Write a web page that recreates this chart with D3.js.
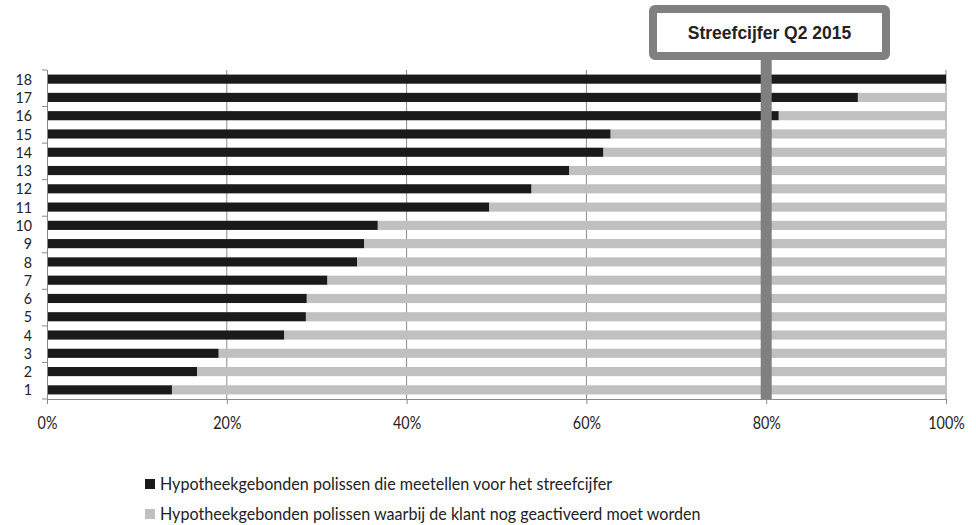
<!DOCTYPE html>
<html>
<head>
<meta charset="utf-8">
<script src="https://cdn.jsdelivr.net/npm/d3@7/dist/d3.min.js"></script>
<style>
  html, body { margin: 0; padding: 0; background: #fff; }
  svg { display: block; }
  .cond { font-family: Lato, "Open Sans", sans-serif; }
</style>
</head>
<body>
<svg id="chart" width="976" height="525"></svg>
<script>
// Categories (policy groups 1..18) and share of policies that count toward the target
const categories = ["1","2","3","4","5","6","7","8","9","10","11","12","13","14","15","16","17","18"];
const counted = [0.139, 0.167, 0.191, 0.264, 0.288, 0.289, 0.312, 0.345, 0.353, 0.368, 0.492, 0.539, 0.581, 0.619, 0.627, 0.814, 0.902, 1.0];
const pending = counted.map(v => 1 - v);
const xTicks = [0, 0.2, 0.4, 0.6, 0.8, 1.0];
const target = 0.8;
const targetLabel = "Streefcijfer Q2 2015";
const seriesNames = [
  "Hypotheekgebonden polissen die meetellen voor het streefcijfer",
  "Hypotheekgebonden polissen waarbij de klant nog geactiveerd moet worden"
];
const colors = ["#1a1a1a", "#c0c0c0"];

const squeeze = 0.82; // horizontal condensing of the label typeface
const svg = d3.select("#chart");
const plot = { left: 47, right: 946, top: 70, bottom: 399 };

const x = d3.scaleLinear().domain([0, 1]).range([plot.left, plot.right]);
const y = d3.scaleBand().domain(categories.slice().reverse()).range([plot.top, plot.bottom]).paddingInner(0.5).paddingOuter(0.25);

// vertical gridlines
svg.append("g").selectAll("line").data(xTicks.slice(1)).join("line")
  .attr("x1", d => x(d)).attr("x2", d => x(d))
  .attr("y1", plot.top).attr("y2", plot.bottom)
  .attr("stroke", "#8a8a8a").attr("stroke-width", 1);

// stacked bars
const stackData = categories.map((c, i) => ({ cat: c, counted: counted[i], pending: pending[i] }));
const stack = d3.stack().keys(["counted", "pending"])(stackData);
svg.append("g").selectAll("g").data(stack).join("g")
  .attr("fill", (d, i) => colors[i])
  .selectAll("rect").data(d => d).join("rect")
  .attr("x", d => x(d[0]))
  .attr("width", d => Math.max(0, x(d[1]) - x(d[0])))
  .attr("y", d => y(d.data.cat))
  .attr("height", y.bandwidth());

// y axis: line plus ticks every two categories
svg.append("line").attr("x1", plot.left + 0.5).attr("x2", plot.left + 0.5)
  .attr("y1", plot.top).attr("y2", plot.bottom + 5).attr("stroke", "#8a8a8a");
const step = (plot.bottom - plot.top) / categories.length;
svg.append("g").selectAll("line").data(d3.range(0, categories.length + 1, 2)).join("line")
  .attr("x1", plot.left - 5).attr("x2", plot.left)
  .attr("y1", d => plot.top + d * step).attr("y2", d => plot.top + d * step)
  .attr("stroke", "#8a8a8a");
svg.append("g").attr("class", "cond").selectAll("text").data(categories).join("text")
  .attr("transform", d => `translate(32,${y(d) + y.bandwidth() / 2}) scale(0.92,1)`)
  .attr("dy", "0.36em").attr("text-anchor", "end")
  .attr("font-size", 15.5).attr("fill", "#222")
  .text(d => d);

// x axis
const xAxis = svg.append("g").attr("transform", `translate(0,${plot.bottom})`)
  .call(d3.axisBottom(x).tickValues(xTicks).tickFormat(d3.format(".0%")).tickSizeInner(5).tickSizeOuter(0).tickPadding(13));
xAxis.select(".domain").attr("stroke", "#8a8a8a");
xAxis.selectAll(".tick line").attr("stroke", "#8a8a8a");
xAxis.selectAll("text").attr("class", "cond").attr("font-size", 17.5).attr("fill", "#222")
  .attr("transform", `scale(${squeeze},1)`);

// target marker line
const boxTop = 9, boxBottom = 56;
svg.append("line").attr("x1", x(target)).attr("x2", x(target))
  .attr("y1", boxBottom).attr("y2", plot.bottom)
  .attr("stroke", "#808080").attr("stroke-width", 11);

// target callout box
const boxLeft = 653, boxRight = 886;
svg.append("rect").attr("x", boxLeft).attr("y", boxTop)
  .attr("width", boxRight - boxLeft).attr("height", boxBottom - boxTop)
  .attr("rx", 2).attr("fill", "#fff").attr("stroke", "#808080").attr("stroke-width", 8);
svg.append("text").attr("x", (boxLeft + boxRight) / 2).attr("y", (boxTop + boxBottom) / 2)
  .attr("dy", "0.36em").attr("text-anchor", "middle")
  .attr("font-family", "Liberation Sans, Arial, sans-serif").attr("font-weight", "bold")
  .attr("font-size", 17.5).attr("fill", "#222")
  .text(targetLabel);

// legend
const legend = svg.append("g").attr("class", "cond");
const legendRows = [484, 514];
seriesNames.forEach((name, i) => {
  legend.append("rect").attr("x", 145).attr("y", legendRows[i] - 5).attr("width", 10).attr("height", 10).attr("fill", colors[i]);
  legend.append("text").attr("transform", `translate(160,${legendRows[i]}) scale(0.895,1)`).attr("dy", "0.36em")
    .attr("font-size", 18).attr("fill", "#222").text(name);
});
</script>
</body>
</html>
